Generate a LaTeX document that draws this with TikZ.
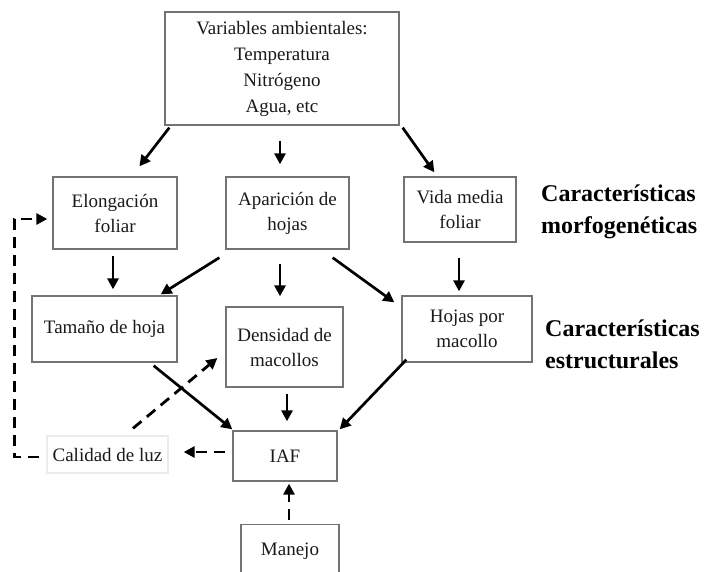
\documentclass[tikz,border=0pt]{standalone}
\usepackage{fontspec}
\setmainfont{Liberation Serif}
\usetikzlibrary{arrows.meta}
\begin{document}
\begin{tikzpicture}[x=1pt,y=-1pt,
  box/.style={draw=black!55, line width=1.3pt, inner sep=0pt, align=center,
    font=\fontsize{19}{25}\selectfont, text=black!90},
  arr/.style={line width=2.7pt, -{Triangle[length=11pt,width=11pt]}},
  dasharr/.style={line width=2.8pt, dash pattern=on 11pt off 7pt, -{Triangle[length=11pt,width=11pt]}},
  heading/.style={font=\bfseries\fontsize{24}{32}\selectfont, align=left, anchor=west, inner sep=0pt}]
\useasboundingbox (0,0) rectangle (706,571);
\begin{scope}
\clip (0,0) rectangle (706,571);
\node[box, minimum width=234pt, minimum height=113pt, font=\fontsize{19}{26}\selectfont] (top) at (282,68.5)
  {Variables ambientales:\\Temperatura\\Nitrógeno\\Agua, etc};
\node[box, minimum width=124pt, minimum height=72pt] (elong) at (115,213) {Elongación\\foliar};
\node[box, minimum width=123pt, minimum height=72pt] (apar) at (287.5,213) {Aparición de\\hojas};
\node[box, minimum width=112pt, minimum height=65pt] (vida) at (460,209.5) {Vida media\\foliar};
\node[box, minimum width=145pt, minimum height=66pt] (tam) at (104.5,329) {Tamaño de hoja};
\node[box, minimum width=117pt, minimum height=80pt] (dens) at (284.5,347) {Densidad de\\macollos};
\node[box, minimum width=130pt, minimum height=66pt] (hojas) at (467,329) {Hojas por\\macollo};
\node[box, minimum width=104pt, minimum height=50pt] (iaf) at (285,456) {IAF};
\node[box, minimum width=98pt, minimum height=54pt, anchor=north] (manejo) at (290,524) {Manejo};
\node[box, draw=black!8, minimum width=121pt, minimum height=37pt] (cal) at (107.5,454.5) {Calidad de luz};
\end{scope}
\node[heading] (morf) at (541,212) {Características\\morfogenéticas};
\node[heading] (estr) at (545,344) {Características\\estructurales};

\draw[arr] ([shift={(5,2)}]top.south west) -- ([shift={(87,-10)}]elong.north west);
\draw[arr] ([shift={(-2,15)}]top.south) -- ([shift={(-7.5,-12)}]apar.north);
\draw[arr] ([shift={(3,2)}]top.south east) -- ([shift={(31,-4)}]vida.north west);
\draw[arr] ([shift={(-2,6)}]elong.south) -- ([shift={(8.5,-6)}]tam.north);
\draw[arr] ([shift={(-6,8)}]apar.south west) -- ([shift={(-17,-1)}]tam.north east);
\draw[arr] ([shift={(-7.5,14)}]apar.south) -- ([shift={(-4.5,-10)}]dens.north);
\draw[arr] ([shift={(-17,8)}]apar.south east) -- ([shift={(-7,7)}]hojas.north west);
\draw[arr] ([shift={(-1,15)}]vida.south) -- ([shift={(-1,-4)}]vida.south |- hojas.north);
\draw[arr] ([shift={(-24,3)}]tam.south east) -- ([shift={(0,-1)}]iaf.north west);
\draw[arr] ([shift={(2.5,6)}]dens.south) -- ([shift={(2,-9)}]iaf.north);
\draw[arr] ([shift={(5,-3)}]hojas.south west) -- ([shift={(2,-1)}]iaf.north east);

\draw[dasharr] ([shift={(25.5,-7)}]cal.north) -- ([shift={(-8,11)}]dens.west);
\draw[dasharr] ([shift={(-7,-4)}]iaf.west) -- ([shift={(15,-2.5)}]cal.east);
\draw[dasharr] ([shift={(-1,-4)}]manejo.north) -- ([shift={(4,2)}]iaf.south);
\draw[dasharr] ([shift={(-7,2.5)}]cal.west) -| ([shift={(-38,6)}]elong.west) -- ([shift={(-5,6)}]elong.west);
\end{tikzpicture}
\end{document}
